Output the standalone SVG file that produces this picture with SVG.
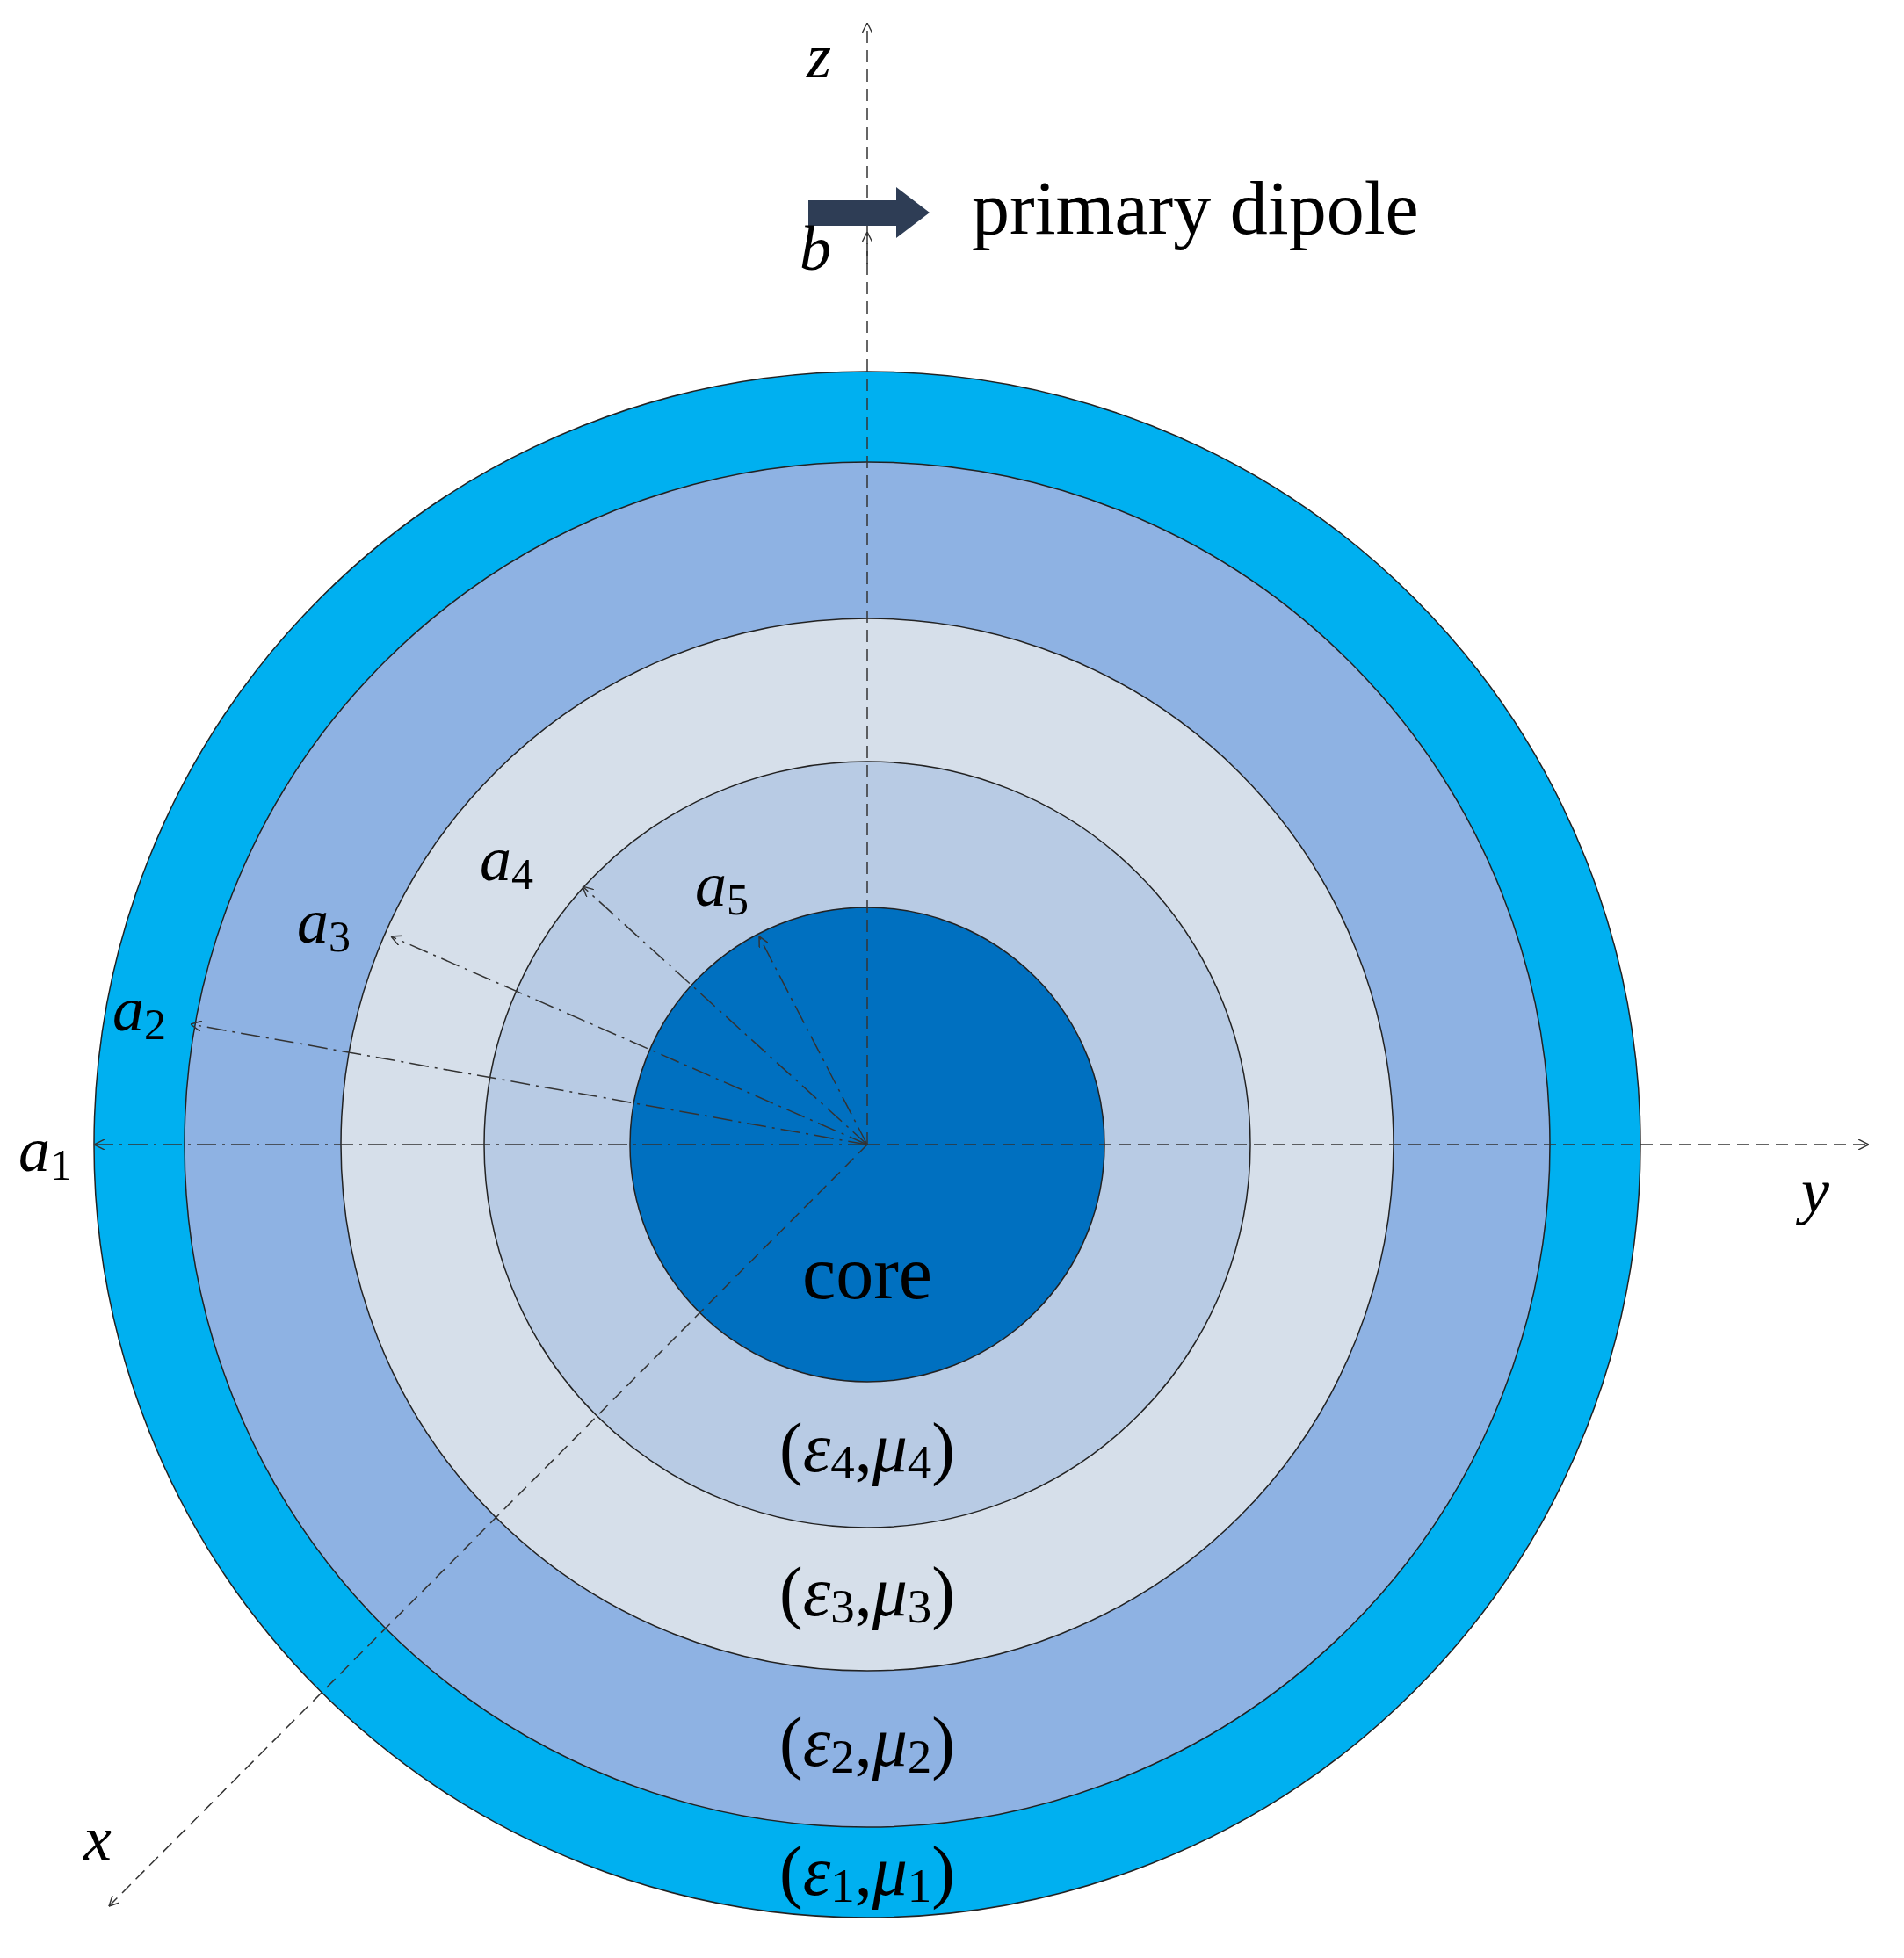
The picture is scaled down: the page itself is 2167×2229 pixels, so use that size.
<svg xmlns="http://www.w3.org/2000/svg" width="2167" height="2229" viewBox="0 0 2167 2229">
<style>
.r{stroke:#222;stroke-width:1.5}
.ax{stroke:#333;stroke-width:1.5;fill:none;stroke-dasharray:14 8}
.dd{stroke:#333;stroke-width:1.5;fill:none;stroke-dasharray:22 7 3 7}
.t{font-family:"Liberation Serif",serif;fill:#000}
.i{font-style:italic}
</style>
<defs>
<marker id="ah" viewBox="0 0 10 10" refX="10" refY="5" markerWidth="12" markerHeight="12" markerUnits="userSpaceOnUse" orient="auto"><path d="M0,0 L10,5 L0,10" fill="none" stroke="#333" stroke-width="1.2"/></marker>
</defs>
<rect width="2167" height="2229" fill="#fff"/>
<g id="layer1"><circle class="r" cx="987" cy="1303" r="880" fill="#00B0F0"/></g>
<g id="layer2"><circle class="r" cx="987" cy="1303" r="777" fill="#8EB2E3"/></g>
<g id="layer3"><circle class="r" cx="987" cy="1303" r="599" fill="#D6DFEA"/></g>
<g id="layer4"><circle class="r" cx="987" cy="1303" r="436" fill="#B8CBE4"/></g>
<g id="core"><circle class="r" cx="987" cy="1303" r="270" fill="#0070C0"/>
<text class="t" x="987" y="1478" font-size="86" text-anchor="middle">core</text></g>
<g id="connectors">
<line class="ax" x1="987" y1="1303" x2="987" y2="26" marker-end="url(#ah)"/>
<line class="ax" x1="987" y1="1303" x2="2127" y2="1303" marker-end="url(#ah)"/>
<line class="ax" x1="987" y1="1303" x2="124" y2="2170" marker-end="url(#ah)"/>
<line class="ax" x1="987" y1="300" x2="987" y2="264" marker-end="url(#ah)"/>
<line class="dd" x1="987" y1="1303" x2="107" y2="1303" marker-end="url(#ah)"/>
<line class="dd" x1="987" y1="1303" x2="217" y2="1166" marker-end="url(#ah)"/>
<line class="dd" x1="987" y1="1303" x2="445" y2="1066" marker-end="url(#ah)"/>
<line class="dd" x1="987" y1="1303" x2="663" y2="1009" marker-end="url(#ah)"/>
<line class="dd" x1="987" y1="1303" x2="864" y2="1066" marker-end="url(#ah)"/>
</g>
<g id="dipole">
<path d="M920,228 H1020 V213 L1058,242 L1020,271 V257 H920 Z" fill="#2E3D55"/>
<text class="t" x="1106" y="266" font-size="86">primary dipole</text>
</g>
<g id="labels">
<text class="t i" x="918" y="88" font-size="72">z</text>
<text class="t i" x="910" y="307" font-size="72">b</text>
<text class="t i" x="2050" y="1380" font-size="72">y</text>
<text class="t i" x="95" y="2117" font-size="72">x</text>
<text class="t" x="21" y="1333" font-size="72"><tspan class="i">a</tspan><tspan font-size="50" dy="10">1</tspan></text>
<text class="t" x="128" y="1173" font-size="72"><tspan class="i">a</tspan><tspan font-size="50" dy="10">2</tspan></text>
<text class="t" x="338" y="1073" font-size="72"><tspan class="i">a</tspan><tspan font-size="50" dy="10">3</tspan></text>
<text class="t" x="546" y="1002" font-size="72"><tspan class="i">a</tspan><tspan font-size="50" dy="10">4</tspan></text>
<text class="t" x="791" y="1031" font-size="72"><tspan class="i">a</tspan><tspan font-size="50" dy="10">5</tspan></text>
<text class="t" x="987" y="1675" font-size="80" text-anchor="middle">(<tspan class="i">ε</tspan><tspan font-size="55" dy="8">4</tspan><tspan dy="-8">,</tspan><tspan class="i">μ</tspan><tspan font-size="55" dy="8">4</tspan><tspan dy="-8">)</tspan></text>
<text class="t" x="987" y="1839" font-size="80" text-anchor="middle">(<tspan class="i">ε</tspan><tspan font-size="55" dy="8">3</tspan><tspan dy="-8">,</tspan><tspan class="i">μ</tspan><tspan font-size="55" dy="8">3</tspan><tspan dy="-8">)</tspan></text>
<text class="t" x="987" y="2010" font-size="80" text-anchor="middle">(<tspan class="i">ε</tspan><tspan font-size="55" dy="8">2</tspan><tspan dy="-8">,</tspan><tspan class="i">μ</tspan><tspan font-size="55" dy="8">2</tspan><tspan dy="-8">)</tspan></text>
<text class="t" x="987" y="2157" font-size="80" text-anchor="middle">(<tspan class="i">ε</tspan><tspan font-size="55" dy="8">1</tspan><tspan dy="-8">,</tspan><tspan class="i">μ</tspan><tspan font-size="55" dy="8">1</tspan><tspan dy="-8">)</tspan></text>
</g>
</svg>
